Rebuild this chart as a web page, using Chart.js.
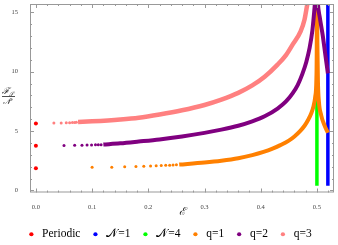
<!DOCTYPE html>
<html>
<head>
<meta charset="utf-8">
<script src="https://cdn.jsdelivr.net/npm/chart.js@4"></script>
<style>
  html, body { margin: 0; padding: 0; background: #fff; }
  #wrap { width: 338px; height: 245px; }
</style>
</head>
<body>
<div id="wrap"><canvas id="chart" width="338" height="245"></canvas></div>
<script>
// values
const periodicX = [0, 0, 0];
const periodicY = [1.88, 3.76, 5.64];

const q1DotsX = [0.1, 0.135, 0.158, 0.178, 0.192, 0.204, 0.214, 0.223, 0.231, 0.238, 0.244, 0.25];
const q1DotsY = [1.95, 1.96, 1.99, 2.02, 2.04, 2.06, 2.08, 2.10, 2.12, 2.13, 2.15, 2.16];
const q1CurveX = [0.255, 0.3, 0.33, 0.36, 0.385, 0.405, 0.42, 0.435, 0.45, 0.46, 0.47, 0.478, 0.485, 0.49, 0.494, 0.497, 0.499, 0.4997, 0.5, 0.5008, 0.5018, 0.5035, 0.5075, 0.5133, 0.5195];
const q1CurveY = [2.18, 2.35, 2.5, 2.71, 2.98, 3.25, 3.5, 3.82, 4.2, 4.55, 5.0, 5.45, 6.0, 6.5, 7.1, 7.9, 9.3, 12, 17, 12.5, 9.2, 7.5, 6.35, 5.5, 4.86];

const q2DotsX = [0.05, 0.069, 0.082, 0.091, 0.099, 0.106, 0.111, 0.116];
const q2DotsY = [3.79, 3.80, 3.81, 3.82, 3.83, 3.84, 3.85, 3.86];
const q2CurveX = [0.12, 0.15, 0.183, 0.22, 0.26, 0.3, 0.33, 0.36, 0.385, 0.407, 0.43, 0.445, 0.457, 0.466, 0.474, 0.481, 0.487, 0.492, 0.496, 0.4985, 0.5, 0.5018, 0.505, 0.5102, 0.5145, 0.5195];
const q2CurveY = [3.87, 3.97, 4.12, 4.3, 4.55, 4.85, 5.12, 5.45, 5.82, 6.25, 6.9, 7.5, 8.2, 8.9, 9.8, 10.8, 12.0, 13.5, 15.5, 17, 17.5, 15.7, 14.6, 13.1, 11.6, 9.86];

const q3DotsX = [0.032, 0.045, 0.054, 0.06, 0.065, 0.069, 0.072];
const q3DotsY = [5.68, 5.69, 5.70, 5.71, 5.72, 5.73, 5.74];
const q3CurveX = [0.075, 0.1, 0.15, 0.183, 0.22, 0.26, 0.3, 0.33, 0.36, 0.385, 0.407, 0.43, 0.445, 0.457, 0.471, 0.478, 0.483, 0.488];
const q3CurveY = [5.76, 5.82, 5.98, 6.13, 6.4, 6.75, 7.2, 7.65, 8.22, 8.85, 9.58, 10.6, 11.4, 12.3, 13.4, 14.4, 15.7, 16.8];

const n4X = [0.5, 0.5];
const n4Y = [0.4, 16];
const n1X = [0.5195, 0.5195];
const n1Y = [0.4, 17];

const xTicks = [0, 0.1, 0.2, 0.3, 0.4, 0.5];
const xTickLabels = ['0.0', '0.1', '0.2', '0.3', '0.4', '0.5'];
const yTicks = [0, 5, 10, 15];
const yTickLabels = ['0', '5', '10', '15'];

const legendNames = ['Periodic', '\u{1D4A9}=1', '\u{1D4A9}=4', 'q=1', 'q=2', 'q=3'];
const legendColors = ['#ff0000', '#0000ff', '#00ff00', '#ff8000', '#800080', '#ff8080'];

function pts(xs, ys) {
    return xs.map((x, i) => ({ x: x, y: ys[i] }));
}

function dots(xs, ys, color, r, order) {
    return { data: pts(xs, ys), backgroundColor: color, borderWidth: 0,
             pointRadius: r, showLine: false, order: order, clip: 0 };
}

function curve(xs, ys, color, w, order) {
    return { data: pts(xs, ys), borderColor: color, borderWidth: w, pointRadius: 0,
             showLine: true, cubicInterpolationMode: 'monotone', order: order, clip: 0,
             borderCapStyle: 'butt' };
}

// frame with inward ticks on all four sides, like the reference
const framePlugin = {
    id: 'frame',
    afterDraw(chart) {
        const { ctx, chartArea: a, scales } = chart;
        ctx.save();
        ctx.strokeStyle = '#999';
        ctx.lineWidth = 1;
        ctx.strokeRect(a.left + 0.5, a.top + 0.5, a.right - a.left - 1, a.bottom - a.top - 1);
        ctx.beginPath();
        for (let i = 0; i <= 26; i++) {
            const v = i * 0.02;
            const px = Math.round(scales.x.getPixelForValue(v)) + 0.5;
            if (px > a.right) break;
            const len = i % 5 === 0 ? 4 : 2;
            ctx.moveTo(px, a.bottom); ctx.lineTo(px, a.bottom - len);
            ctx.moveTo(px, a.top); ctx.lineTo(px, a.top + len);
        }
        for (let v = 0; v <= 15; v++) {
            const py = Math.round(scales.y.getPixelForValue(v)) + 0.5;
            const len = v % 5 === 0 ? 4 : 2;
            ctx.moveTo(a.left, py); ctx.lineTo(a.left + len, py);
            ctx.moveTo(a.right, py); ctx.lineTo(a.right - len, py);
        }
        ctx.stroke();

        // y axis label as a fraction
        ctx.fillStyle = '#222';
        ctx.textBaseline = 'alphabetic';
        ctx.font = 'italic 9px "DejaVu Serif"';
        ctx.fillText('\u2131', 2, 94);
        ctx.font = 'italic 6px "DejaVu Serif"';
        ctx.fillText('\u{1D4AE}', 9, 96);
        ctx.fillRect(2, 96, 13, 0.8);
        ctx.font = 'italic 8px "DejaVu Serif"';
        ctx.fillText('\u{1D4A9}', 3, 104);
        ctx.font = '5px "Liberation Serif"';
        ctx.fillText('2', 10, 101);
        ctx.restore();
    }
};

const ctx = document.getElementById('chart').getContext('2d');
new Chart(ctx, {
    type: 'scatter',
    data: {
        datasets: [
            dots(periodicX, periodicY, legendColors[0], 2, 1),
            curve(n1X, n1Y, legendColors[1], 3.5, 8),
            curve(n4X, n4Y, legendColors[2], 3.5, 9),
            dots(q1DotsX, q1DotsY, legendColors[3], 1.5, 4),
            curve(q1CurveX, q1CurveY, legendColors[3], 4, 4),
            dots(q2DotsX, q2DotsY, legendColors[4], 1.5, 3),
            curve(q2CurveX, q2CurveY, legendColors[4], 4, 3),
            dots(q3DotsX, q3DotsY, legendColors[5], 1.5, 2),
            curve(q3CurveX, q3CurveY, legendColors[5], 4.5, 2)
        ]
    },
    options: {
        responsive: false,
        animation: false,
        layout: { padding: { top: 3, right: 0, left: 0, bottom: -5 } },
        plugins: {
            tooltip: { enabled: false },
            legend: {
                position: 'bottom',
                labels: {
                    usePointStyle: true,
                    boxWidth: 10,
                    boxHeight: 3,
                    padding: 10,
                    color: '#000',
                    font: { family: '"Liberation Serif"', size: 11.5 },
                    generateLabels: () => legendNames.map((n, i) => ({
                        text: n, fillStyle: legendColors[i], strokeStyle: legendColors[i],
                        lineWidth: 0, pointStyle: 'circle', hidden: false, datasetIndex: i
                    }))
                },
                onClick: null
            }
        },
        scales: {
            x: {
                type: 'linear',
                min: -0.0105,
                max: 0.5304,
                afterFit: s => { s.height = 26; s.paddingLeft = 0; s.paddingRight = 0; },
                afterBuildTicks: s => { s.ticks = xTicks.map(v => ({ value: v })); },
                grid: { display: false },
                border: { display: false },
                ticks: {
                    padding: 3,
                    color: '#444',
                    font: { family: '"Liberation Serif"', size: 6.5 },
                    callback: v => xTickLabels[xTicks.indexOf(v)]
                },
                title: {
                    display: true,
                    text: '\u2130',
                    padding: { top: 0, bottom: 0 },
                    color: '#222',
                    font: { family: '"DejaVu Serif"', size: 11, style: 'italic' }
                }
            },
            y: {
                type: 'linear',
                min: -0.17,
                max: 15.7,
                afterFit: s => { s.width = 30; s.paddingTop = 0; s.paddingBottom = 0; },
                afterBuildTicks: s => { s.ticks = yTicks.map(v => ({ value: v })); },
                grid: { display: false },
                border: { display: false },
                ticks: {
                    padding: 4,
                    color: '#444',
                    font: { family: '"Liberation Serif"', size: 6.5 },
                    callback: v => yTickLabels[yTicks.indexOf(v)]
                }
            }
        }
    },
    plugins: [framePlugin]
});
</script>
</body>
</html>
